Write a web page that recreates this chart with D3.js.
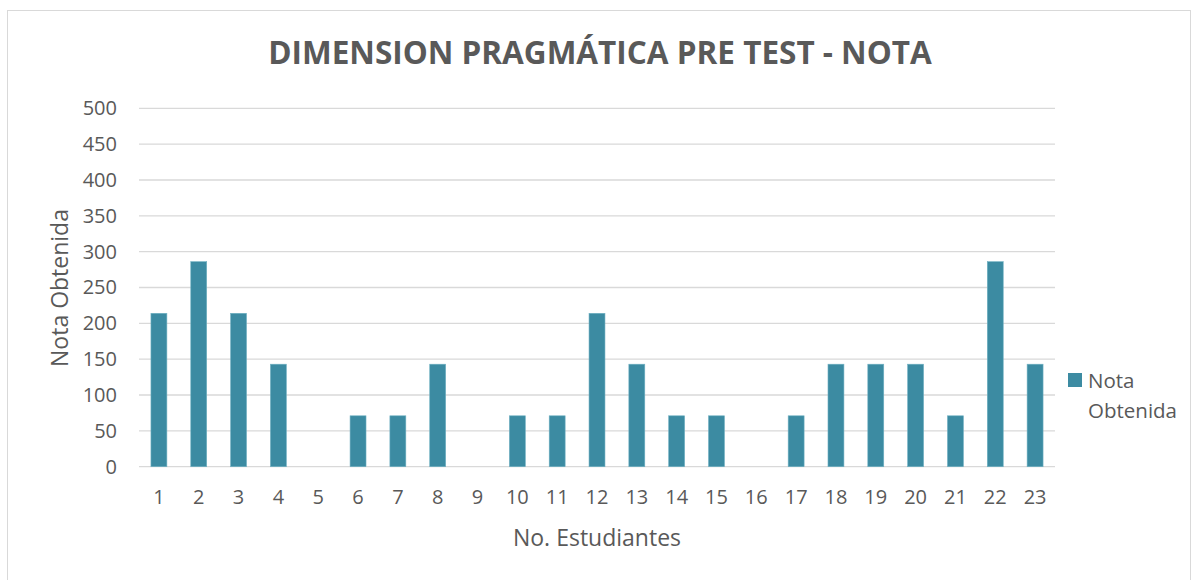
<!DOCTYPE html>
<html><head><meta charset="utf-8">
<script src="https://cdn.jsdelivr.net/npm/d3@7"></script>
<style>body{margin:0;background:#fff}svg{display:block}text{font-family:"Open Sans",sans-serif;fill:#595959}</style>
</head><body>
<svg id="c" width="1192" height="580"></svg>
<script>
const categories = ["1","2","3","4","5","6","7","8","9","10","11","12","13","14","15","16","17","18","19","20","21","22","23"];
const notaObtenida = [214,286,214,143,0,71,71,143,0,71,71,214,143,71,71,0,71,143,143,143,71,286,143];
const yTicks = [0,50,100,150,200,250,300,350,400,450,500];
const title = "DIMENSION PRAGMÁTICA PRE TEST - NOTA";
const seriesName = "Nota Obtenida";

const svg = d3.select("#c");
svg.append("rect").attr("x",7.5).attr("y",10.5).attr("width",1183).attr("height",580).attr("fill","#fff").attr("stroke","#d9d9d9");

const m = {l:139, r:1055, t:108.3, b:466.7};
const x = d3.scaleBand().domain(categories).range([m.l,m.r]).paddingInner(0.6).paddingOuter(0.3);
const y = d3.scaleLinear().domain([0,500]).range([m.b,m.t]);

svg.append("g").selectAll("line").data(yTicks).join("line")
  .attr("x1",m.l).attr("x2",m.r).attr("y1",d=>y(d)).attr("y2",d=>y(d))
  .attr("stroke","#d9d9d9").attr("stroke-width",1.3);

const ya = svg.append("g").attr("transform",`translate(${m.l},0)`)
  .call(d3.axisLeft(y).tickValues(yTicks).tickSize(0).tickPadding(22));
ya.select(".domain").remove();
ya.selectAll("text").attr("font-size",20).attr("fill","#595959").attr("font-family","'Open Sans',sans-serif");

svg.append("g").selectAll("rect").data(notaObtenida).join("rect")
  .attr("x",(d,i)=>x(categories[i])).attr("width",x.bandwidth())
  .attr("y",d=>y(d)).attr("height",d=>y(0)-y(d))
  .attr("fill","#3c8ba2").attr("stroke","#6fb0c2").attr("stroke-width",0.6);

const xa = svg.append("g").attr("transform",`translate(0,${m.b})`)
  .call(d3.axisBottom(x).tickSize(0).tickPadding(23));
xa.select(".domain").remove();
xa.selectAll("text").attr("font-size",20).attr("fill","#595959").attr("font-family","'Open Sans',sans-serif");

svg.append("text").attr("x",600).attr("y",64).attr("text-anchor","middle")
  .attr("font-size",31.5).attr("font-weight","bold").attr("fill","#595959").text(title);

svg.append("text").attr("x",597).attr("y",546).attr("text-anchor","middle")
  .attr("font-size",23).text("No. Estudiantes");

svg.append("text").attr("transform","translate(68,288) rotate(-90)").attr("text-anchor","middle")
  .attr("font-size",23).text(seriesName);

svg.append("rect").attr("x",1068).attr("y",373).attr("width",14).attr("height",14).attr("fill","#3c8ba2");
const lt = svg.append("text").attr("font-size",20.5);
lt.append("tspan").attr("x",1088).attr("y",388).text("Nota");
lt.append("tspan").attr("x",1088).attr("y",418).text("Obtenida");
</script>
</body></html>
